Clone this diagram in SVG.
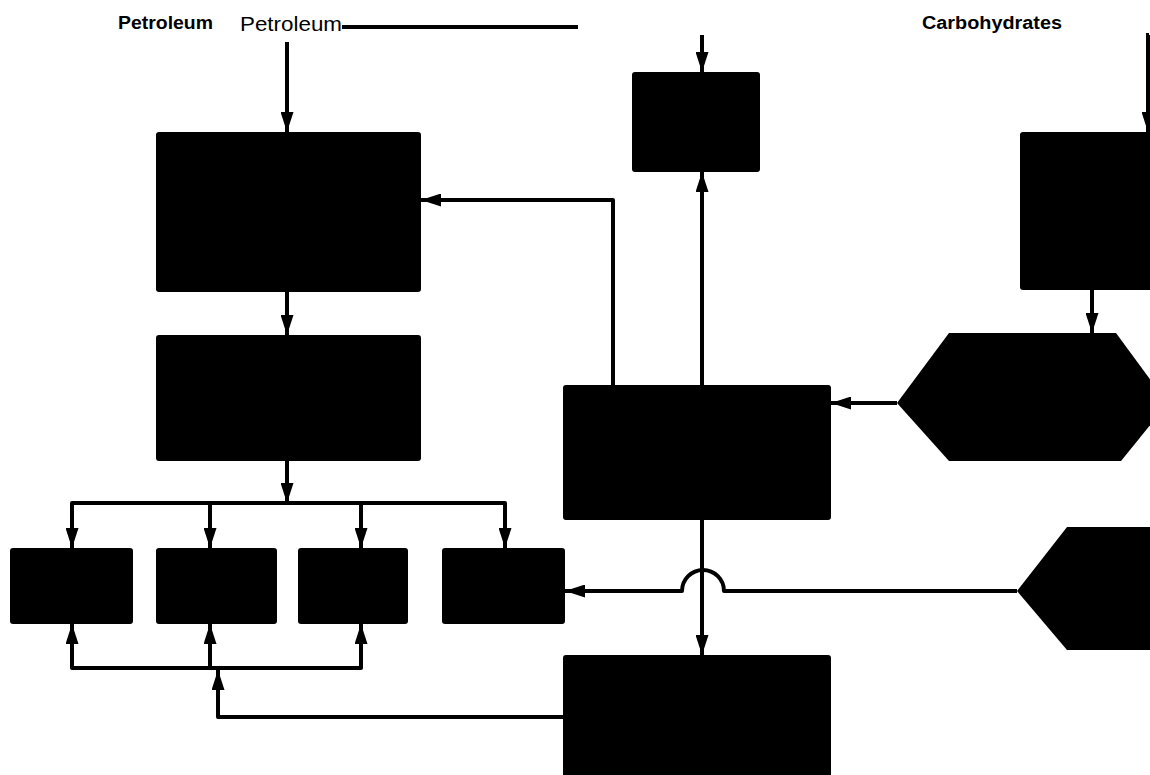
<svg xmlns="http://www.w3.org/2000/svg" width="1150" height="775" viewBox="0 0 1150 775">
<defs>
<style>
.node{fill:#000;}
.c{fill:none;stroke:#000;stroke-width:4;stroke-linejoin:round;}
.t{font-family:"Liberation Sans",Arial,sans-serif;fill:#000;}
</style>
<marker id="ah" viewBox="0 0 20 13" refX="20" refY="6.5" markerWidth="20" markerHeight="13" markerUnits="userSpaceOnUse" orient="auto">
<path d="M0,0 L20,6.5 L0,13 Z" fill="#000"/>
</marker>
</defs>
<rect width="1150" height="775" fill="#fff"/>
<g id="labels">
<text class="t" x="118" y="29" font-size="18" font-weight="bold" textLength="95" lengthAdjust="spacingAndGlyphs">Petroleum</text>
<text class="t" x="240" y="31" font-size="20" textLength="102" lengthAdjust="spacingAndGlyphs">Petroleum</text>
<text class="t" x="922" y="29" font-size="18" font-weight="bold" textLength="140" lengthAdjust="spacingAndGlyphs">Carbohydrates</text>
</g>
<g id="n1"><rect class="node" x="156" y="132" width="265" height="160" rx="3"/></g>
<g id="n2"><rect class="node" x="156" y="335" width="265" height="126" rx="3"/></g>
<g id="n3"><rect class="node" x="632" y="72" width="128" height="100" rx="3"/></g>
<g id="n4"><rect class="node" x="1020" y="132" width="140" height="158" rx="3"/></g>
<g id="n5"><polygon class="node" points="897,403 949,333 1116,333 1160,393 1160,413 1121,461 949,461"/></g>
<g id="n6"><rect class="node" x="563" y="385" width="268" height="135" rx="3"/></g>
<g id="n7"><polygon class="node" points="1017,591 1067,527 1160,527 1160,650 1067,650"/></g>
<g id="n8"><rect class="node" x="10" y="548" width="123" height="76" rx="3"/></g>
<g id="n9"><rect class="node" x="156" y="548" width="121" height="76" rx="3"/></g>
<g id="n10"><rect class="node" x="298" y="548" width="110" height="76" rx="3"/></g>
<g id="n11"><rect class="node" x="442" y="548" width="123" height="76" rx="3"/></g>
<g id="n12"><rect class="node" x="563" y="655" width="268" height="125" rx="3"/></g>
<g id="connectors">
<line x1="342" y1="27" x2="578" y2="27" stroke="#000" stroke-width="4"/>
<line class="c" x1="287" y1="42" x2="287" y2="132" marker-end="url(#ah)"/>
<line class="c" x1="702" y1="35" x2="702" y2="72" stroke-width="6" marker-end="url(#ah)"/>
<path class="c" d="M1146,35 H1149 M1148,35 V132" stroke-width="3" marker-end="url(#ah)"/>
<line class="c" x1="287" y1="292" x2="287" y2="335" marker-end="url(#ah)"/>
<line class="c" x1="287" y1="461" x2="287" y2="503" marker-end="url(#ah)"/>
<path class="c" d="M72,548 V503 H505 V548"/>
<line class="c" x1="72" y1="503" x2="72" y2="548" marker-end="url(#ah)"/>
<line class="c" x1="210" y1="503" x2="210" y2="548" marker-end="url(#ah)"/>
<line class="c" x1="361" y1="503" x2="361" y2="548" marker-end="url(#ah)"/>
<line class="c" x1="505" y1="503" x2="505" y2="548" marker-end="url(#ah)"/>
<path class="c" d="M613,385 V200 H421" marker-end="url(#ah)"/>
<line class="c" x1="702" y1="385" x2="702" y2="172" marker-end="url(#ah)"/>
<line class="c" x1="1092" y1="290" x2="1092" y2="333" marker-end="url(#ah)"/>
<line class="c" x1="897" y1="403" x2="831" y2="403" marker-end="url(#ah)"/>
<line class="c" x1="702" y1="520" x2="702" y2="655" marker-end="url(#ah)"/>
<path class="c" d="M1017,591 H724 A20,20 0 0 0 682,591 H565" marker-end="url(#ah)"/>
<path class="c" d="M72,624 V668 H361 V624"/>
<line class="c" x1="72" y1="668" x2="72" y2="624" marker-end="url(#ah)"/>
<line class="c" x1="210" y1="668" x2="210" y2="624" marker-end="url(#ah)"/>
<line class="c" x1="361" y1="668" x2="361" y2="624" marker-end="url(#ah)"/>
<path class="c" d="M563,717 H218 V670" marker-end="url(#ah)"/>
</g>
</svg>
